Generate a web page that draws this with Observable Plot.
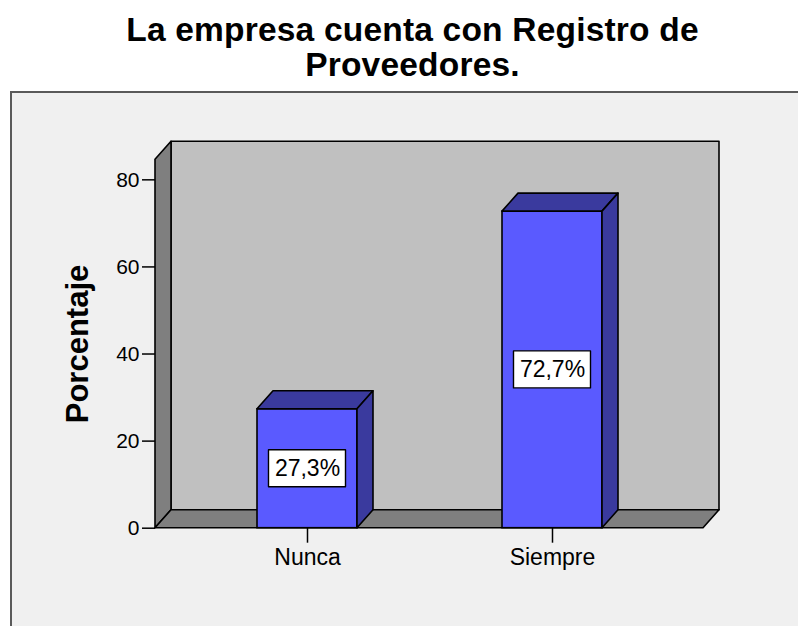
<!DOCTYPE html>
<html>
<head>
<meta charset="utf-8">
<script src="https://cdn.jsdelivr.net/npm/d3@7"></script>
<script src="https://cdn.jsdelivr.net/npm/@observablehq/plot@0.6"></script>
<style>
  html, body { margin: 0; padding: 0; background: #ffffff; }
  #root { position: relative; width: 798px; height: 626px; overflow: hidden; font-family: "Liberation Sans", Arial, sans-serif; }
  #title { position: absolute; left: 0; top: 12px; width: 825px; text-align: center; font-weight: bold; font-size: 33.5px; line-height: 35px; letter-spacing: 0.2px; color: #000; }
  #panel { position: absolute; left: 10px; top: 91px; width: 820px; height: 560px; background: #f0f0f0; border-top: 2px solid #5a5a5a; border-left: 2px solid #5a5a5a; box-sizing: border-box; }
  #chart { position: absolute; left: 0; top: 92px; }
</style>
</head>
<body>
<div id="root">
  <div id="title">La empresa cuenta con Registro de<br>Proveedores.</div>
  <div id="panel"></div>
  <div id="chart"></div>
</div>
<script>
// ---- data ----
const categories = ["Nunca", "Siempre"];
const percentages = [27.3, 72.7];
const pctLabels = ["27,3%", "72,7%"];
const yTicks = [0, 20, 40, 60, 80];
const yMax = 84.6;
const yTitle = "Porcentaje";

const data = categories.map((c, i) => ({cat: c, pct: percentages[i], label: pctLabels[i]}));

// ---- style ----
const DX = 16, DY = -18;
const frontBlue = "#5a5aff", darkBlue = "#3a3a9e";
const wallGrey = "#c0c0c0", sideGrey = "#7f7f7f";

function poly(g, pts, fill) {
  g.append("path").attr("d", "M" + pts.map(p => p.join(",")).join("L") + "Z").attr("fill", fill);
}

function walls(index, scales, values, dims) {
  const y = scales.y;
  const x0 = dims.marginLeft, x1 = dims.width - dims.marginRight;
  const yb = y(0), yt = y(yMax);
  const g = d3.create("svg:g").attr("stroke", "#000").attr("stroke-width", 1.6).attr("stroke-linejoin", "round");
  g.append("rect").attr("x", x0 + DX).attr("y", yt + DY).attr("width", x1 - x0).attr("height", yb - yt).attr("fill", wallGrey);
  poly(g, [[x0, yb], [x0, yt], [x0 + DX, yt + DY], [x0 + DX, yb + DY]], sideGrey);
  poly(g, [[x0, yb], [x1, yb], [x1 + DX, yb + DY], [x0 + DX, yb + DY]], sideGrey);
  return g.node();
}

function barFaces(index, scales, values, dims) {
  const x = scales.x, y = scales.y;
  const bw = typeof x.bandwidth === "function" ? x.bandwidth() : x.bandwidth;
  const g = d3.create("svg:g").attr("stroke", "#000").attr("stroke-width", 1.6).attr("stroke-linejoin", "round");
  const yb = y(0);
  data.forEach(d => {
    const xl = x(d.cat), xr = xl + bw, yv = y(d.pct);
    poly(g, [[xl, yv], [xr, yv], [xr + DX, yv + DY], [xl + DX, yv + DY]], darkBlue);
    poly(g, [[xr, yv], [xr + DX, yv + DY], [xr + DX, yb + DY], [xr, yb]], darkBlue);
    const cx = xl + bw / 2, cy = y(d.pct / 2);
    g.append("rect").attr("x", cx - 38.5).attr("y", cy - 18.5).attr("width", 77).attr("height", 37)
      .attr("fill", "#fff").attr("stroke-width", 1.4);
  });
  return g.node();
}

const chart = Plot.plot({
  width: 798,
  height: 534,
  marginLeft: 155,
  marginRight: 95,
  marginTop: 67.3,
  marginBottom: 98.3,
  style: {background: "transparent", fontFamily: "Liberation Sans, Arial, sans-serif", overflow: "visible"},
  x: {domain: categories, paddingInner: 0.59, paddingOuter: 0.41, align: 0.506, label: null},
  y: {domain: [0, yMax], label: null},
  marks: [
    walls,
    Plot.barY(data, {x: "cat", y: "pct", fill: frontBlue, stroke: "#000", strokeWidth: 1.6}),
    barFaces,
    Plot.text(data, {x: "cat", y: d => d.pct / 2, text: "label", fontSize: 23, fill: "#000"}),
    Plot.axisY({ticks: yTicks, tickSize: 13, tickPadding: 3, fontSize: 21, color: "#000", strokeWidth: 1.5, label: null}),
    Plot.axisX({tickSize: 15, tickPadding: 5, fontSize: 23, color: "#000", strokeWidth: 1.5, label: null}),
    Plot.text([yTitle], {frameAnchor: "left", textAnchor: "middle", text: d => d, rotate: -90, dx: -77, fontSize: 31, fontWeight: "bold", fill: "#000"})
  ]
});
document.getElementById("chart").appendChild(chart);
</script>
</body>
</html>
